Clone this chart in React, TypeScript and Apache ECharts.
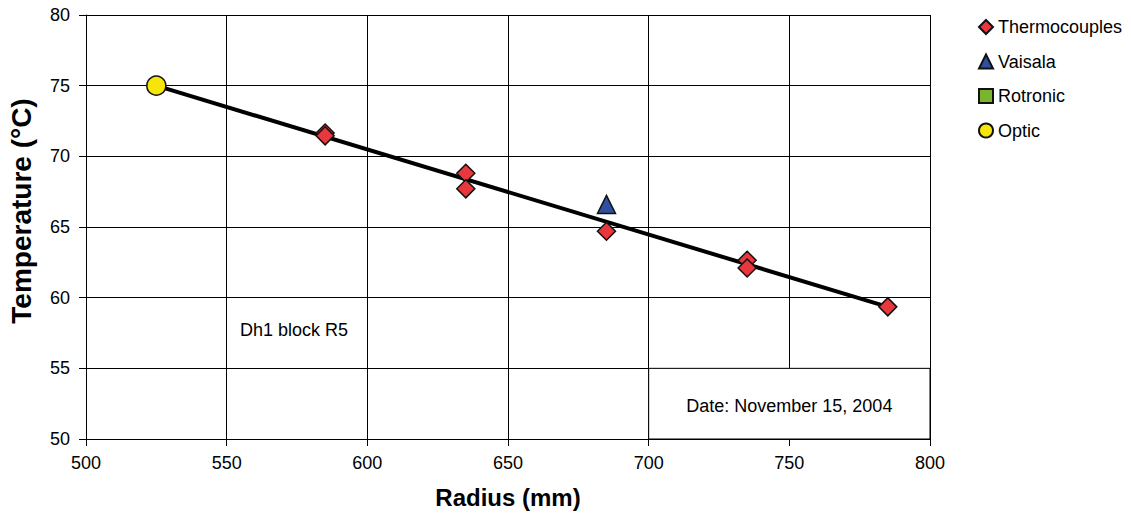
import React, { useEffect, useRef } from "react";
import * as echarts from "echarts";

const xTicks = [500, 550, 600, 650, 700, 750, 800];
const thermocouples: [number, number][] = [
  [585, 71.65], [585, 71.45], [635, 68.8], [635, 67.7], [685, 64.7],
  [735, 62.65], [735, 62.1], [785, 59.35],
];
const vaisala: [number, number][] = [[685, 66.6]];
const rotronic: [number, number][] = [];
const optic: [number, number][] = [[525, 75.0]];
const trendLine: [number, number][] = [[525, 75.0], [785, 59.35]];
const dateBox: [number, number][] = [[700, 55], [800, 50]];
const dateLabel = "Date: November 15, 2004";
const blockLabel = "Dh1 block R5";
const yTitle = "Temperature (°C)";
const xTitle = "Radius (mm)";

const FONT = "'Liberation Sans', Arial, sans-serif";

export default function App() {
  const ref = useRef<HTMLDivElement>(null);
  useEffect(() => {
    const chart = echarts.init(ref.current!, undefined, { renderer: "svg" });
    chart.setOption({
      animation: false,
      textStyle: { fontFamily: FONT },
      grid: {
        left: 86,
        right: 201,
        top: 15,
        bottom: 76,
        containLabel: false,
        outerBoundsMode: "none",
      },
      legend: {
        orient: "vertical",
        left: 973,
        top: 13,
        itemGap: 16.5,
        itemWidth: 14,
        itemHeight: 14,
        textStyle: { fontSize: 18, color: "#000", fontFamily: FONT },
        data: ["Thermocouples", "Vaisala", "Rotronic", "Optic"],
      },
      xAxis: {
        type: "value",
        min: xTicks[0],
        max: xTicks[xTicks.length - 1],
        interval: 50,
        name: xTitle,
        nameLocation: "middle",
        nameGap: 46,
        nameTextStyle: { fontSize: 24, fontWeight: "bold", color: "#000", fontFamily: FONT },
        axisLine: { lineStyle: { color: "#000", width: 1 } },
        axisTick: { show: true, length: 7, lineStyle: { color: "#000" } },
        axisLabel: { fontSize: 18, color: "#000", margin: 15, fontFamily: FONT },
        splitLine: { show: true, lineStyle: { color: "#000", width: 1 } },
      },
      yAxis: {
        type: "value",
        min: 50,
        max: 80,
        interval: 5,
        axisLine: { show: true, lineStyle: { color: "#000", width: 1 } },
        axisTick: { show: true, length: 7, lineStyle: { color: "#000" } },
        axisLabel: { fontSize: 18, color: "#000", margin: 16, fontFamily: FONT },
        splitLine: { show: true, lineStyle: { color: "#000", width: 1 } },
      },
      graphic: [
        {
          type: "text",
          x: 240,
          y: 330,
          style: {
            text: blockLabel,
            fontSize: 18,
            fill: "#000",
            fontFamily: FONT,
            verticalAlign: "middle",
          },
        },
        {
          type: "text",
          x: 21,
          y: 211,
          rotation: Math.PI / 2,
          style: {
            text: yTitle,
            fontSize: 28,
            fontWeight: "bold",
            fill: "#000",
            fontFamily: FONT,
            align: "center",
            verticalAlign: "middle",
          },
        },
      ],
      series: [
        {
          name: "Box",
          type: "line",
          data: [],
          markArea: {
            silent: true,
            itemStyle: { color: "#fff", borderColor: "#000", borderWidth: 1, opacity: 1 },
            label: {
              show: true,
              position: "inside",
              formatter: dateLabel,
              fontSize: 18,
              color: "#000",
              fontFamily: FONT,
              offset: [0, 2],
            },
            data: [[{ coord: dateBox[0] }, { coord: dateBox[1] }]],
          },
        },
        {
          name: "Trend",
          type: "line",
          data: trendLine,
          symbol: "none",
          lineStyle: { color: "#000", width: 4 },
          z: 3,
        },
        {
          name: "Thermocouples",
          type: "scatter",
          data: thermocouples,
          symbol: "diamond",
          symbolSize: 18,
          itemStyle: { color: "#e8383d", borderColor: "#111", borderWidth: 1.5, opacity: 1 },
          z: 4,
        },
        {
          name: "Vaisala",
          type: "scatter",
          data: vaisala,
          symbol: "triangle",
          symbolSize: 18,
          itemStyle: { color: "#2f4fa0", borderColor: "#111", borderWidth: 1.5, opacity: 1 },
          z: 4,
        },
        {
          name: "Rotronic",
          type: "scatter",
          data: rotronic,
          symbol: "rect",
          symbolSize: 14,
          itemStyle: { color: "#7ab32e", borderColor: "#111", borderWidth: 1.5, opacity: 1 },
          z: 4,
        },
        {
          name: "Optic",
          type: "scatter",
          data: optic,
          symbol: "circle",
          symbolSize: 19,
          itemStyle: { color: "#f5e50a", borderColor: "#111", borderWidth: 1.5, opacity: 1 },
          z: 5,
        },
      ],
    });
    return () => chart.dispose();
  }, []);
  return (
    <div
      ref={ref}
      style={{ position: "absolute", left: 0, top: 0, width: 1131, height: 515 }}
    />
  );
}
